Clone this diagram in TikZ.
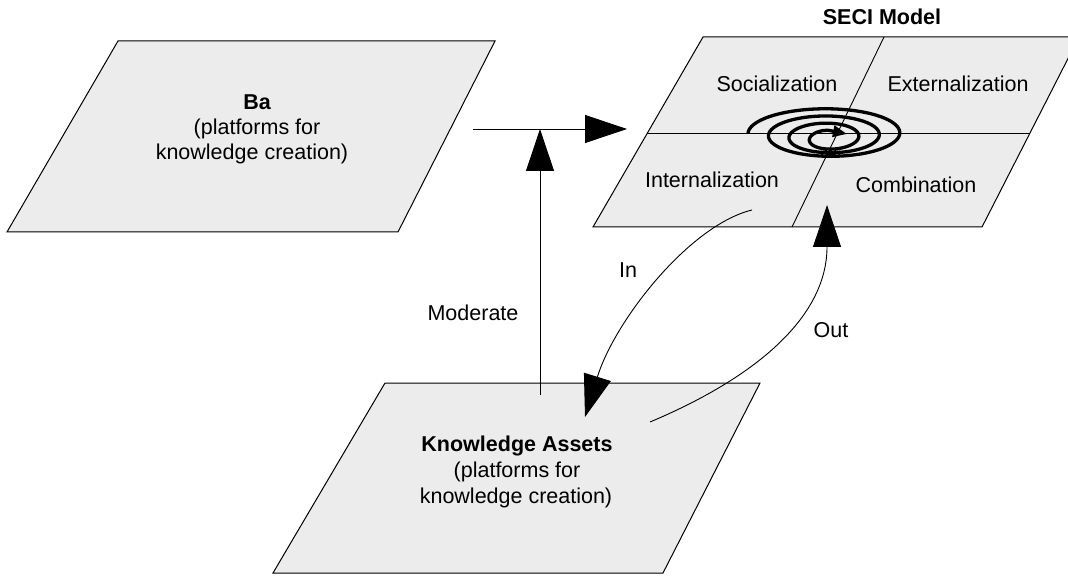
\documentclass[tikz,border=0pt]{standalone}
\usepackage{fontspec}
\setmainfont{Liberation Sans}
\usetikzlibrary{arrows.meta}
\definecolor{panel}{RGB}{236,236,236}
\begin{document}
\begin{tikzpicture}[x=1pt,y=-1pt,
  plane/.style={draw=black, line width=1pt, fill=panel, line join=miter},
  divline/.style={draw=black, line width=0.9pt},
  conn/.style={draw=black, line width=0.9pt},
  bigtip/.style={-{Triangle[length=42pt,width=28pt]}},
  spiralline/.style={draw=black, line width=3.3pt, -{Triangle[length=14pt,width=11pt]}},
  lbl/.style={font=\fontsize{21.5}{26}\selectfont, inner sep=0pt, anchor=base},
  blbl/.style={lbl, font=\fontsize{21.5}{26}\selectfont\bfseries}]
\useasboundingbox (0,0) rectangle (1068,577);
\clip (0,0) rectangle (1068,577);
% planes
\draw[plane] (118,41) -- (495,41) -- (398,232) -- (7,232) -- cycle;
\draw[plane] (703,37) -- (1079,37) -- (982,227) -- (593,227) -- cycle;
\draw[plane] (385,383) -- (760,383) -- (663,573) -- (273,573) -- cycle;
% SECI quadrants
\coordinate (midL) at (647,133); \coordinate (midR) at (1030,133);
\coordinate (divT) at (884,37); \coordinate (divB) at (792,227);
\draw[divline] (midL) -- (midR);
\draw[divline] (divT) -- (divB);
% texts
\node[blbl] (ba1) at (257,110) {Ba};
\node[lbl] (ba2) at (257,135) {(platforms for};
\node[lbl] (ba3) at (252,160) {knowledge creation)};
\node[blbl] (ka1) at (517,451) {Knowledge Assets};
\node[lbl] (ka2) at (517,477) {(platforms for};
\node[lbl] (ka3) at (516,503) {knowledge creation)};
\node[blbl] (seci) at (882,25) {SECI Model};
\node[lbl] (soc) at (777,92) {Socialization};
\node[lbl] (ext) at (958,92) {Externalization};
\node[lbl] (int) at (712,188) {Internalization};
\node[lbl] (com) at (916,193) {Combination};
\node[lbl] (mod) at (473,320) {Moderate};
\node[lbl] (in) at (628,278) {In};
\node[lbl] (out) at (831,337) {Out};
% connectors
\coordinate (baout) at (473,129); \coordinate (seciin) at (627,129);
\draw[conn, bigtip] (baout) -- (seciin);
\coordinate (modS) at (540,395); \coordinate (modE) at (540,129);
\draw[conn, bigtip] (modS) -- (modE);
\coordinate (inS) at (752,210); \coordinate (inE) at (585,417);
\draw[conn, bigtip] (inS) .. controls (690,225) and (615,320) .. (inE);
\coordinate (outS) at (650,422); \coordinate (outE) at (827,205);
\draw[conn, bigtip] (outS) .. controls (750,380) and (827,320) .. (outE);
% spiral
\coordinate (spTip) at (847,134);
\draw[spiralline] plot[domain=0:1170, samples=260, smooth, variable=\s]
  ({829 - (81-0.057*\s)*cos(\s)}, {133+0.005*\s - (26-0.015*\s)*sin(\s)}) -- (spTip);
\end{tikzpicture}
\end{document}
